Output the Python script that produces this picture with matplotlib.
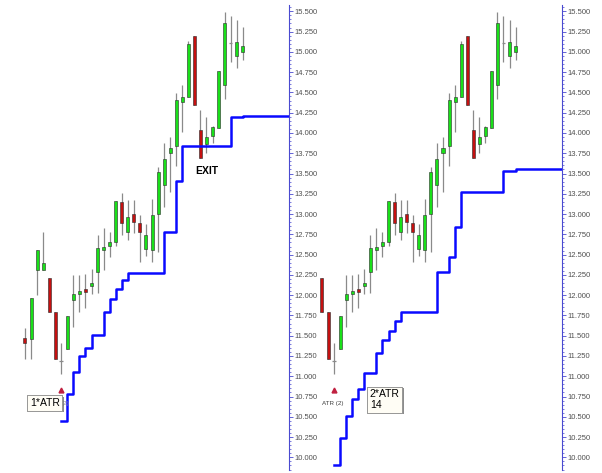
import matplotlib
matplotlib.use('Agg')
import matplotlib.pyplot as plt
import matplotlib.patheffects as pe
from matplotlib.ticker import MultipleLocator, FormatStrFormatter

plt.rcParams['font.family'] = ['Liberation Sans', 'DejaVu Sans']

# bar index (0 = first bar shown in the right panel)
bars = list(range(-4, 33))
opens = [11.47, 11.46, 12.31, 12.31, 12.21, 11.79, 11.19, 11.34, 11.94, 12.02, 12.08, 12.11,
         12.29, 12.56, 12.61, 12.66, 13.15, 12.78, 13.00, 12.89, 12.57, 12.56, 13.00, 13.36,
         13.75, 13.84, 14.38, 14.44, 15.20, 14.04, 13.86, 13.96, 14.06, 14.59, 15.11, 14.95, 15.00]
highs = [11.60, 11.97, 12.56, 12.78, 12.21, 11.79, 11.41, 11.74, 12.25, 12.25, 12.26, 12.32,
         12.74, 12.83, 12.78, 13.16, 13.26, 13.17, 13.17, 12.99, 12.88, 13.19, 13.58, 13.88,
         13.95, 14.49, 14.59, 15.14, 15.20, 14.28, 14.20, 14.08, 14.76, 15.49, 15.44, 15.39, 15.31]
lows = [11.21, 11.21, 12.00, 12.31, 11.79, 11.21, 11.03, 11.34, 11.61, 11.79, 11.84, 12.01,
        12.03, 12.31, 12.47, 12.61, 12.74, 12.68, 12.77, 12.41, 12.48, 12.41, 12.53, 13.09,
        13.27, 13.59, 14.01, 14.44, 14.35, 13.69, 13.75, 13.88, 14.06, 14.42, 14.88, 14.80, 14.90]
closes = [11.41, 11.97, 12.56, 12.40, 11.79, 11.21, 11.19, 11.74, 12.01, 12.05, 12.04, 12.15,
          12.58, 12.59, 12.66, 13.16, 12.89, 12.96, 12.90, 12.78, 12.74, 12.99, 13.52, 13.68,
          13.82, 14.41, 14.44, 15.10, 14.35, 13.69, 13.95, 14.07, 14.76, 15.36, 15.11, 15.12, 15.07]

# trailing stops, starting at bar 2
stop_bars = list(range(2, 33))
stop_1atr = [10.45, 10.78, 11.05, 11.25, 11.35, 11.51, 11.51, 11.79, 11.95, 12.08, 12.19,
             12.27, 12.27, 12.27, 12.27, 12.27, 12.27, 12.78, 12.78, 13.41, 13.84, 13.84,
             13.84, 13.84, 13.84, 13.84, 13.84, 13.84, 14.20, 14.20, 14.21]
stop_2atr = [9.91, 10.24, 10.51, 10.72, 10.84, 11.04, 11.04, 11.29, 11.45, 11.56, 11.68,
             11.79, 11.79, 11.79, 11.79, 11.79, 11.79, 12.29, 12.29, 12.47, 12.84, 13.27,
             13.27, 13.27, 13.27, 13.27, 13.27, 13.27, 13.53, 13.53, 13.56]

entry_bar = 2
entry_marker = 10.83

GREEN = '#19e019'
RED = '#c41010'
WICK = '#8a8a8a'
BLUE = '#0a0aff'
AXIS = '#4a4ad0'

fig = plt.figure(figsize=(6.02, 4.73), dpi=100)
ylo, yhi = 9.844, 15.578
ax1 = fig.add_axes([0, 3 / 473, 289 / 602, 465 / 473])
ax2 = fig.add_axes([312 / 602, 3 / 473, 250 / 602, 465 / 473])


def draw_candles(ax, first):
    for k, o, h, l, c in zip(bars, opens, highs, lows, closes):
        if k < first:
            continue
        ax.vlines(k, l, h, color=WICK, lw=0.9, zorder=1)
        if abs(c - o) < 0.02:
            ax.hlines(o, k - 0.3, k + 0.3, color=WICK, lw=0.9, zorder=2)
        else:
            col = GREEN if c > o else RED
            ax.bar(k, abs(c - o), bottom=min(o, c), width=0.5, color=col,
                   edgecolor='#2a2a2a', lw=0.4, zorder=2)


def style(ax, xlim):
    ax.set_xlim(*xlim)
    ax.set_ylim(ylo, yhi)
    for s in ['top', 'left', 'bottom']:
        ax.spines[s].set_visible(False)
    ax.spines['right'].set_color(AXIS)
    ax.spines['right'].set_linewidth(0.8)
    ax.set_xticks([])
    ax.yaxis.tick_right()
    ax.yaxis.set_major_locator(MultipleLocator(0.25))
    ax.yaxis.set_minor_locator(MultipleLocator(0.05))
    ax.yaxis.set_major_formatter(FormatStrFormatter('%.3f'))
    ax.tick_params(axis='y', which='major', length=3, width=0.6, color=AXIS,
                   labelsize=5.5, labelcolor='#505050', pad=1)
    ax.tick_params(axis='y', which='minor', length=1.5, width=0.5, color=AXIS)
    ax.set_facecolor('none')


def label_box(ax, x, y, s, ha):
    t = ax.text(x, y, s, fontsize=7.5, ha=ha, va='center', zorder=6, linespacing=1.1,
                bbox=dict(boxstyle='square,pad=0.25', fc='#fffdf5', ec='#909090', lw=0.6))
    t.get_bbox_patch().set_path_effects(
        [pe.withSimplePatchShadow(offset=(1.2, -1.2), shadow_rgbFace='#707070', alpha=0.8),
         pe.Normal()])


# left panel: 1*ATR stop
draw_candles(ax1, -4)
xl1 = (-8.13, 39.64)
ax1.step(stop_bars + [xl1[1]], stop_1atr + [stop_1atr[-1]], where='post',
         color=BLUE, lw=1.8, zorder=3)
ax1.plot(entry_bar, entry_marker, marker='^', color='#c02040', ms=3.5, zorder=4)
ax1.text(2.75, 10.67, '(2)', fontsize=4.5, color='#909090',
         ha='center', va='center', zorder=4)
label_box(ax1, -0.7, 10.67, '1*ATR', 'center')
ax1.text(26.1, 13.53, 'EXIT', fontsize=7.5, fontweight='bold', ha='center', va='center')
style(ax1, xl1)

# right panel: 2*ATR stop
draw_candles(ax2, 0)
xl2 = (-1.65, 39.67)
ax2.step(stop_bars + [xl2[1]], stop_2atr + [stop_2atr[-1]], where='post',
         color=BLUE, lw=1.8, zorder=3)
ax2.plot(entry_bar, entry_marker, marker='^', color='#c02040', ms=3.5, zorder=4)
ax2.text(1.8, 10.67, 'ATR (2)', fontsize=4.5, color='#404040',
         ha='center', va='center', zorder=4)
label_box(ax2, 7.9, 10.71, '2*ATR\n14', 'left')
style(ax2, xl2)

fig.savefig('out.png', dpi=100)
